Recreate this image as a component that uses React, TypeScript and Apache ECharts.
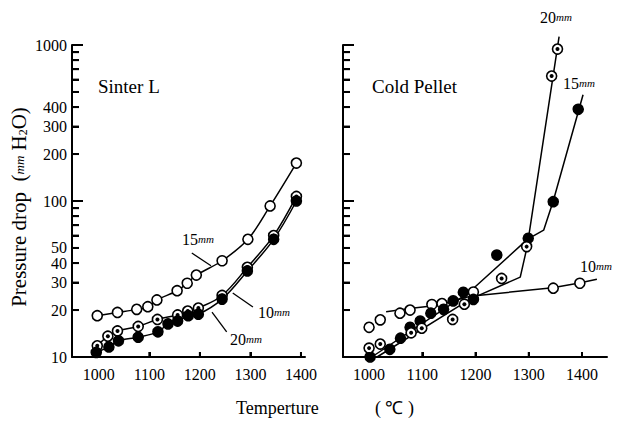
import React, { useEffect, useRef } from 'react';
import * as echarts from 'echarts';

// ---------- tick values ----------
const xTickValues = [1000, 1100, 1200, 1300, 1400];
const yLabelValues = [10, 20, 30, 40, 50, 100, 200, 300, 400, 1000];
const yShortTicks = [20, 30, 40, 50, 60, 70, 80, 90, 200, 300, 400, 500, 600, 700, 800, 900];
const yLongTicks = [100, 1000];

// ---------- Sinter L ----------
const sinter15T = [997, 1037, 1075, 1097, 1115, 1155, 1175, 1193, 1244, 1295, 1339, 1391];
const sinter15V = [18.4, 19.3, 20.2, 21.0, 23.2, 26.6, 29.7, 33.5, 41.4, 56.8, 93, 175];
const sinter10T = [997, 1018, 1037, 1078, 1116, 1156, 1176, 1197, 1244, 1294, 1346, 1391];
const sinter10V = [11.8, 13.6, 14.7, 15.7, 17.4, 18.6, 19.7, 20.6, 24.8, 37.6, 60, 107];
const sinter20T = [995, 1020, 1039, 1078, 1117, 1137, 1156, 1177, 1197, 1244, 1294, 1346, 1391];
const sinter20V = [10.7, 11.6, 12.7, 13.4, 14.5, 16.3, 17.0, 18.4, 18.8, 23.5, 35.6, 56.8, 100];

// ---------- Cold Pellet: measured points ----------
const pellet10T = [1000, 1021, 1058, 1077, 1118, 1137, 1196, 1346, 1396];
const pellet10V = [15.5, 17.3, 19.1, 20.0, 21.7, 22.0, 26.1, 27.6, 29.7];
const pellet15T = [1002, 1039, 1059, 1077, 1096, 1116, 1140, 1158, 1177, 1196, 1240, 1299, 1346, 1393];
const pellet15V = [10.0, 11.2, 13.2, 15.5, 17.0, 19.1, 20.2, 22.9, 26.0, 23.4, 45, 57.7, 99, 387];
const pellet20T = [1000, 1021, 1079, 1099, 1157, 1179, 1249, 1296, 1343, 1354];
const pellet20V = [11.4, 12.1, 14.3, 15.3, 17.4, 21.8, 31.9, 51, 632, 942];

// ---------- Cold Pellet: fitted lines ----------
const fit10T = [1032, 1080, 1130, 1190, 1345, 1395, 1428];
const fit10V = [19.5, 20.5, 21.5, 24.5, 27.8, 29.8, 31.5];
const fit15T = [1005, 1188, 1298, 1328, 1346, 1402];
const fit15V = [10, 26, 57, 65, 100, 480];
const fit20T = [1015, 1190, 1284, 1297, 1357];
const fit20V = [10, 23.5, 32.5, 51, 1130];

const xRanges = [
  [947, 1408],
  [951, 1447],
];
const yRange = [10, 1000];
const gridLefts = [72, 343];
const gridWidths = [233, 264];
const gridTop = 45;
const gridHeight = 312;

const pairs = (t: number[], v: number[]) => t.map((x, i) => [x, v[i]]);

const FONT = 'Liberation Serif';

export default function App() {
  const ref = useRef<HTMLDivElement>(null);
  useEffect(() => {
    if (!ref.current) return;
    const chart = echarts.init(ref.current, null, { renderer: 'svg' });

    const xAxisBase = (gridIndex: number) => ({
      type: 'value',
      gridIndex,
      position: 'bottom',
      min: xRanges[gridIndex][0],
      max: xRanges[gridIndex][1],
      axisLine: { show: true, onZero: false, lineStyle: { color: '#000', width: 2 } },
      axisTick: { show: false },
      axisLabel: {
        show: true,
        customValues: xTickValues,
        formatter: (v: number) => String(v),
        color: '#000',
        fontFamily: FONT,
        fontSize: 16,
        margin: 9,
      },
      splitLine: { show: false },
    });

    const xAxisTicks = (gridIndex: number) => ({
      type: 'value',
      gridIndex,
      position: 'top',
      offset: -gridHeight,
      min: xRanges[gridIndex][0],
      max: xRanges[gridIndex][1],
      axisLine: { show: false, onZero: false },
      axisTick: { show: true, inside: false, length: 5, customValues: xTickValues, lineStyle: { color: '#000', width: 2 } },
      axisLabel: { show: false },
      splitLine: { show: false },
    });

    const yAxisMain = (gridIndex: number, showLabels: boolean) => ({
      type: 'log',
      logBase: 10,
      gridIndex,
      position: 'left',
      min: yRange[0],
      max: yRange[1],
      axisLine: { show: true, lineStyle: { color: '#000', width: 2 } },
      axisTick: { show: false },
      axisLabel: {
        show: showLabels,
        customValues: yLabelValues,
        formatter: (v: number) => String(v),
        color: '#000',
        fontFamily: FONT,
        fontSize: 16,
        lineHeight: 12,
        margin: 5,
      },
      splitLine: { show: false },
      minorTick: { show: false },
    });

    const yAxisTicks = (gridIndex: number, values: number[], length: number) => ({
      type: 'log',
      logBase: 10,
      gridIndex,
      position: 'right',
      offset: -gridWidths[gridIndex],
      min: yRange[0],
      max: yRange[1],
      axisLine: { show: false },
      axisTick: { show: true, inside: false, length, customValues: values, lineStyle: { color: '#000', width: 2 } },
      axisLabel: { show: false },
      splitLine: { show: false },
    });

    const markerLine = (name: string, t: number[], v: number[], fill: string) => ({
      name,
      type: 'line',
      xAxisIndex: 0,
      yAxisIndex: 0,
      data: pairs(t, v),
      smooth: 0.35,
      symbol: 'circle',
      symbolSize: 10,
      showSymbol: true,
      clip: false,
      lineStyle: { color: '#000', width: 1.5 },
      itemStyle: { color: fill, borderColor: '#000', borderWidth: 1.6, opacity: 1 },
    });

    const dots = (xi: number, yi: number, t: number[], v: number[]) => ({
      type: 'scatter',
      xAxisIndex: xi,
      yAxisIndex: yi,
      data: pairs(t, v),
      symbol: 'circle',
      symbolSize: 4,
      clip: false,
      itemStyle: { color: '#000', opacity: 1 },
      z: 5,
    });

    const scatterPts = (t: number[], v: number[], fill: string) => ({
      type: 'scatter',
      xAxisIndex: 1,
      yAxisIndex: 3,
      data: pairs(t, v),
      symbol: 'circle',
      symbolSize: 10,
      clip: false,
      itemStyle: { color: fill, borderColor: '#000', borderWidth: 1.6, opacity: 1 },
      z: 4,
    });

    const fitLine = (t: number[], v: number[]) => ({
      type: 'line',
      xAxisIndex: 1,
      yAxisIndex: 3,
      data: pairs(t, v),
      symbol: 'none',
      clip: false,
      lineStyle: { color: '#000', width: 1.5 },
      z: 3,
    });

    const arrow = (from: number[], to: number[]) => ({
      silent: true,
      symbol: ['none', 'arrow'],
      symbolSize: [0, 7],
      label: { show: false },
      lineStyle: { color: '#000', width: 1.3, type: 'solid' },
      data: [[{ coord: from }, { coord: to }]],
    });

    // extra tick marks through a custom series, using the axes' own coordinates
    const tickCustom = (xi: number, yi: number, g: number) => ({
      type: 'custom',
      xAxisIndex: xi,
      yAxisIndex: yi,
      silent: true,
      clip: false,
      z: 9,
      data: [
        ...yShortTicks.map((v) => [xRanges[g][0], v, 7, 0]),
        ...yLongTicks.map((v) => [xRanges[g][0], v, 11, 0]),
        ...xTickValues.map((v) => [v, yRange[0], 5, 1]),
      ],
      encode: { x: 0, y: 1 },
      renderItem: (params: any, api: any) => {
        const p = api.coord([api.value(0), api.value(1)]);
        const len = api.value(2);
        const vertical = api.value(3) === 1;
        return {
          type: 'line',
          shape: vertical
            ? { x1: p[0], y1: p[1], x2: p[0], y2: p[1] - len }
            : { x1: p[0], y1: p[1], x2: p[0] + len, y2: p[1] },
          style: { stroke: '#000', lineWidth: 2 },
        };
      },
    });

    const unitLabel = (num: string, left: number, top: number) => ({
      type: 'text',
      left,
      top,
      style: {
        text: `{n|${num}}{u|mm}`,
        rich: {
          n: { fontFamily: FONT, fontSize: 16, fill: '#000' },
          u: { fontFamily: FONT, fontSize: 11, fontStyle: 'italic', fill: '#000' },
        },
      },
    });

    const opt: any = {
      animation: false,
      backgroundColor: '#fff',
      grid: [0, 1].map((g) => ({
        left: gridLefts[g],
        top: gridTop,
        width: gridWidths[g],
        height: gridHeight,
        containLabel: false,
        outerBoundsMode: 'none',
      })),
      xAxis: [xAxisBase(0), xAxisBase(1), xAxisTicks(0), xAxisTicks(1)],
      yAxis: [
        yAxisMain(0, true),
        yAxisTicks(0, yShortTicks, 7),
        yAxisTicks(0, yLongTicks, 11),
        yAxisMain(1, false),
        yAxisTicks(1, yShortTicks, 7),
        yAxisTicks(1, yLongTicks, 11),
      ],
      series: [
        {
          ...markerLine('Sinter 15mm', sinter15T, sinter15V, '#fff'),
          markLine: arrow([1184, 46.4], [1222, 38.5]),
        },
        {
          ...markerLine('Sinter 10mm', sinter10T, sinter10V, '#fff'),
          markLine: arrow([1305, 20.9], [1265, 25.7]),
        },
        {
          ...markerLine('Sinter 20mm', sinter20T, sinter20V, '#000'),
          markLine: arrow([1253, 14.5], [1224, 19.4]),
        },
        dots(0, 0, sinter10T, sinter10V),
        fitLine(fit10T, fit10V),
        fitLine(fit15T, fit15V),
        fitLine(fit20T, fit20V),
        scatterPts(pellet10T, pellet10V, '#fff'),
        scatterPts(pellet15T, pellet15V, '#000'),
        scatterPts(pellet20T, pellet20V, '#fff'),
        dots(1, 3, pellet20T, pellet20V),
        tickCustom(0, 0, 0),
        tickCustom(1, 3, 1),
      ],
      graphic: [
        { type: 'text', left: 98, top: 77, style: { text: 'Sinter L', fontFamily: FONT, fontSize: 19, fill: '#000' } },
        { type: 'text', left: 372, top: 77, style: { text: 'Cold Pellet', fontFamily: FONT, fontSize: 19, fill: '#000' } },
        unitLabel('15', 182, 231),
        unitLabel('10', 258, 304),
        unitLabel('20', 230, 331),
        unitLabel('20', 540, 9),
        unitLabel('15', 563, 75),
        unitLabel('10', 580, 258),
        {
          type: 'text',
          x: 19,
          y: 207,
          rotation: Math.PI / 2,
          style: {
            text: '{a|Pressure drop  (}{u|mm}{a| H}{s|2}{a|O)}',
            align: 'center',
            verticalAlign: 'middle',
            rich: {
              a: { fontFamily: FONT, fontSize: 21, fill: '#000' },
              u: { fontFamily: FONT, fontSize: 13, fontStyle: 'italic', fill: '#000' },
              s: { fontFamily: FONT, fontSize: 12, fill: '#000', padding: [8, 0, 0, 0] },
            },
          },
        },
        { type: 'text', left: 236, top: 399, style: { text: 'Temperture', fontFamily: FONT, fontSize: 18, fill: '#000' } },
        { type: 'text', left: 375, top: 399, style: { text: '( ℃ )', fontFamily: FONT, fontSize: 18, fill: '#000' } },
      ],
    };

    chart.setOption(opt);
    return () => chart.dispose();
  }, []);

  return (
    <div
      ref={ref}
      style={{ position: 'fixed', left: 0, top: 0, width: 617, height: 423, background: '#fff' }}
    />
  );
}
